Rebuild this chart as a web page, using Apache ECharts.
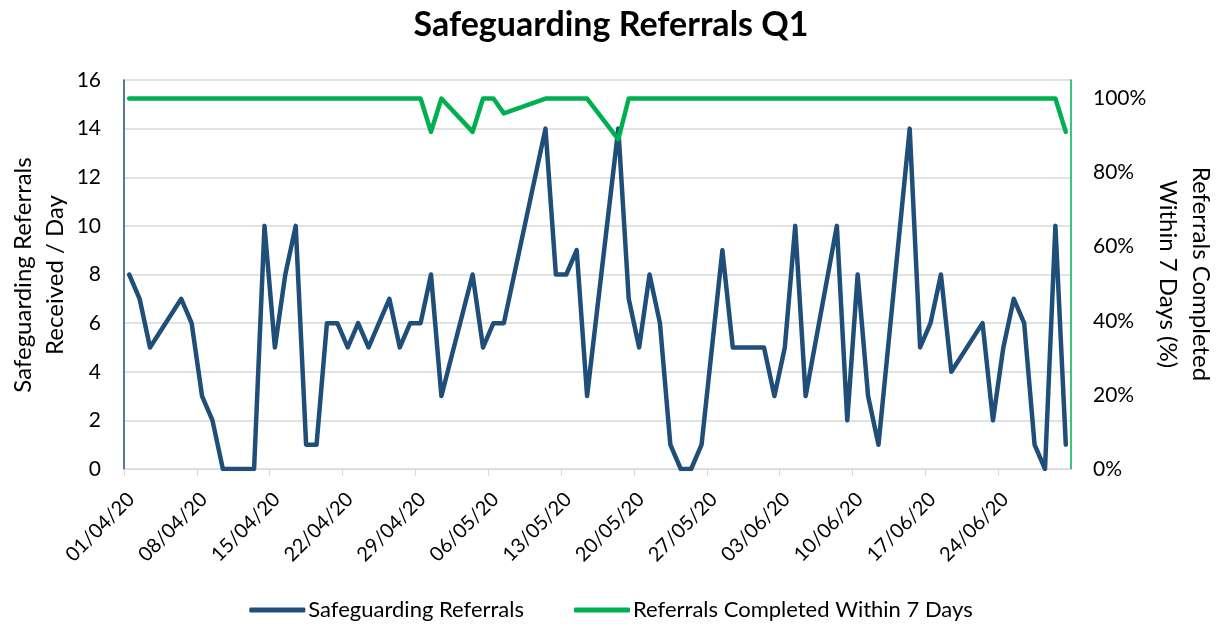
<!DOCTYPE html>
<html>
<head>
<meta charset="utf-8">
<script src="https://cdn.jsdelivr.net/npm/echarts@6/dist/echarts.min.js"></script>
<style>
html,body{margin:0;padding:0;background:#fff;}
#chart{width:1222px;height:624px;}
</style>
</head>
<body>
<div id="chart"></div>
<script>
// Daily values from 01/04/20 to 30/06/20 (null = no entry, line joins across)
const referrals = [
  8, 7, 5, null, null, 7, 6, 3, 2, 0,
  0, 0, 0, 10, 5, 8, 10, 1, 1, 6,
  6, 5, 6, 5, 6, 7, 5, 6, 6, 8,
  3, null, null, 8, 5, 6, 6, null, null, null,
  14, 8, 8, 9, 3, null, null, 14, 7, 5,
  8, 6, 1, 0, 0, 1, 5, 9, 5, 5,
  5, 5, 3, 5, 10, 3, null, null, 10, 2,
  8, 3, 1, null, null, 14, 5, 6, 8, 4,
  null, null, 6, 2, 5, 7, 6, 1, 0, 10,
  1
];
const completedPct = [
  100, 100, 100, null, null, 100, 100, 100, 100, 100,
  100, 100, 100, 100, 100, 100, 100, 100, 100, 100,
  100, 100, 100, 100, 100, 100, 100, 100, 100, 91,
  100, null, null, 91, 100, 100, 96, null, null, null,
  100, 100, 100, 100, 100, null, null, 89, 100, 100,
  100, 100, 100, 100, 100, 100, 100, 100, 100, 100,
  100, 100, 100, 100, 100, 100, null, null, 100, 100,
  100, 100, 100, null, null, 100, 100, 100, 100, 100,
  null, null, 100, 100, 100, 100, 100, 100, 100, 100,
  91
];
const tickLabels = ['01/04/20','08/04/20','15/04/20','22/04/20','29/04/20','06/05/20','13/05/20',
  '20/05/20','27/05/20','03/06/20','10/06/20','17/06/20','24/06/20'];
const leftTicks = [0, 2, 4, 6, 8, 10, 12, 14, 16];
const rightTicks = ['0%','20%','40%','60%','80%','100%'];

// category dates (one per day)
const dates = [];
for (let i = 0; i < referrals.length; i++) {
  const d = new Date(2020, 3, 1 + i);
  dates.push(String(d.getDate()).padStart(2,'0') + '/' + String(d.getMonth()+1).padStart(2,'0') + '/20');
}

const FONT = 'Lato';
const chart = echarts.init(document.getElementById('chart'), null, {renderer: 'canvas'});
const days = dates.length;

chart.setOption({
  backgroundColor: '#ffffff',
  animation: false,
  textStyle: {fontFamily: FONT},
  title: {
    text: 'Safeguarding Referrals Q1',
    left: 'center', top: 3,
    textStyle: {fontFamily: FONT, fontSize: 34, fontWeight: 'bold', color: '#000'}
  },
  legend: {
    left: 'center', top: 594,
    itemWidth: 56, itemHeight: 5, itemGap: 50,
    icon: 'roundRect',
    textStyle: {fontFamily: FONT, fontSize: 22, color: '#000', padding: [0,0,0,-2]},
    data: ['Safeguarding Referrals', 'Referrals Completed Within 7 Days']
  },
  grid: {left: 124, right: 151, top: 80, bottom: 155},
  xAxis: {
    type: 'value', min: 0, max: days, interval: 7,
    axisLine: {show: true, lineStyle: {color: '#D9D9D9', width: 1}},
    axisTick: {show: true, length: 7, lineStyle: {color: '#D9D9D9'}},
    splitLine: {show: false},
    axisLabel: {
      rotate: 45, margin: 20, fontSize: 20, color: '#000', fontFamily: FONT,
      verticalAlign: 'top',
      showMaxLabel: false,
      formatter: v => tickLabels[Math.round(v / 7)] || ''
    }
  },
  yAxis: [{
    type: 'value', min: 0, max: leftTicks[leftTicks.length-1], interval: 2,
    axisLine: {show: true, lineStyle: {color: '#1F4E79', width: 1.5}},
    axisTick: {show: false},
    splitLine: {show: true, lineStyle: {color: '#D9D9D9', width: 1.5}},
    axisLabel: {margin: 23, fontSize: 21, color: '#000', fontFamily: FONT}
  }, {
    type: 'value', min: 0, max: 105, interval: 20,
    axisLine: {show: true, lineStyle: {color: '#00B050', width: 1.5}},
    axisTick: {show: false},
    splitLine: {show: false},
    axisLabel: {margin: 22, fontSize: 21, color: '#000', fontFamily: FONT,
      showMaxLabel: false,
      formatter: v => (v % 20 === 0 ? rightTicks[v / 20] : '')}
  }],
  graphic: [{
    type: 'text', x: 39, y: 275, rotation: Math.PI / 2,
    style: {text: 'Safeguarding Referrals\nReceived / Day', font: '24px Lato', fill: '#000',
      align: 'center', verticalAlign: 'middle', lineHeight: 32}
  }, {
    type: 'text', x: 1184, y: 274, rotation: -Math.PI / 2,
    style: {text: 'Referrals Completed\nWithin 7 Days (%)', font: '24px Lato', fill: '#000',
      align: 'center', verticalAlign: 'middle', lineHeight: 33}
  }],
  series: [{
    name: 'Safeguarding Referrals', type: 'line', yAxisIndex: 0,
    data: referrals.map((v, i) => [i + 0.5, v]),
    connectNulls: true, symbol: 'none',
    lineStyle: {color: '#1F4E79', width: 4.5, join: 'round', cap: 'round'},
    itemStyle: {color: '#1F4E79'},
    z: 3
  }, {
    name: 'Referrals Completed Within 7 Days', type: 'line', yAxisIndex: 1,
    data: completedPct.map((v, i) => [i + 0.5, v]),
    connectNulls: true, symbol: 'none',
    lineStyle: {color: '#00B050', width: 4.5, join: 'round', cap: 'round'},
    itemStyle: {color: '#00B050'},
    z: 4
  }]
});
</script>
</body>
</html>
